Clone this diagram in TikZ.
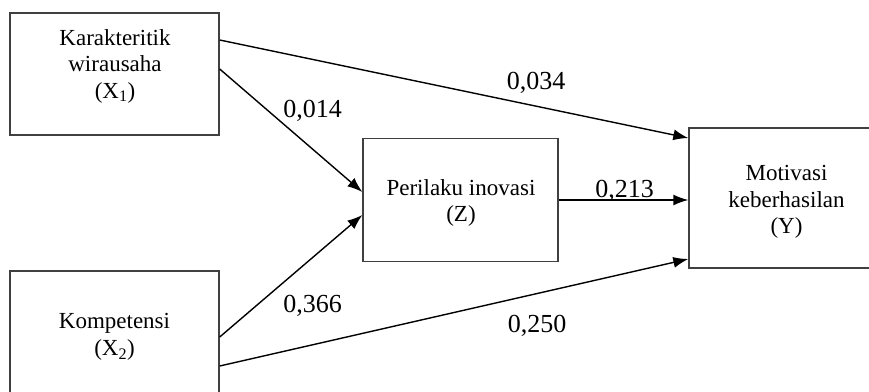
\documentclass[tikz,border=0pt]{standalone}
\usepackage{fontspec}
\setmainfont{Liberation Serif}
\usepackage{tikz}
\usetikzlibrary{arrows.meta}
\tikzset{>={Latex[length=15pt,width=11pt]}}

\begin{document}
\begin{tikzpicture}[x=1pt, y=-1pt,
    box/.style={draw=black!75, line width=1.4pt, rectangle, inner sep=0pt},
    txt/.style={align=center, font=\fontsize{23}{26.5}\selectfont},
    coef/.style={anchor=base, font=\fontsize{26}{30}\selectfont},
    arr/.style={->, line width=1.4pt}]
    \useasboundingbox (0,0) rectangle (869,391);
    \clip (0,0) rectangle (869,391);
    \node[box, minimum width=209pt, minimum height=122pt] (x1) at (114.5,74) {};
    \node[box, minimum width=209pt, minimum height=122pt] (x2) at (114.5,332) {};
    \node[box, minimum width=195pt, minimum height=123pt] (z) at (460.5,200) {};
    \node[box, minimum width=195pt, minimum height=140pt] (y) at (786.5,198) {};
    \node[txt] (x1txt) at (115,66) {Karakteritik\\wirausaha\\(X\textsubscript{1})};
    \node[txt] (x2txt) at (114.5,337) {Kompetensi\\(X\textsubscript{2})};
    \node[txt] (ztxt) at (461,203) {Perilaku inovasi\\(Z)};
    \node[txt] (ytxt) at (786.5,202) {Motivasi\\keberhasilan\\(Y)};
    \draw[arr] ([yshift=34pt]x1.east) -- ([yshift=60pt]y.west);
    \draw[arr] ([yshift=5pt]x1.east) -- ([yshift=8pt]z.west);
    \draw[arr] ([yshift=-5pt]x2.east) -- ([yshift=-15pt]z.west);
    \draw[arr] ([yshift=-34pt]x2.east) -- ([yshift=-61pt]y.west);
    \draw[arr] (z.east) -- (z.east -| y.west);
    \node[coef] (c1) at (536,89) {0,034};
    \node[coef] (c2) at (312.5,117) {0,014};
    \node[coef] (c3) at (624.5,197) {0,213};
    \node[coef] (c4) at (312.5,312) {0,366};
    \node[coef] (c5) at (537,332) {0,250};
\end{tikzpicture}
\end{document}
